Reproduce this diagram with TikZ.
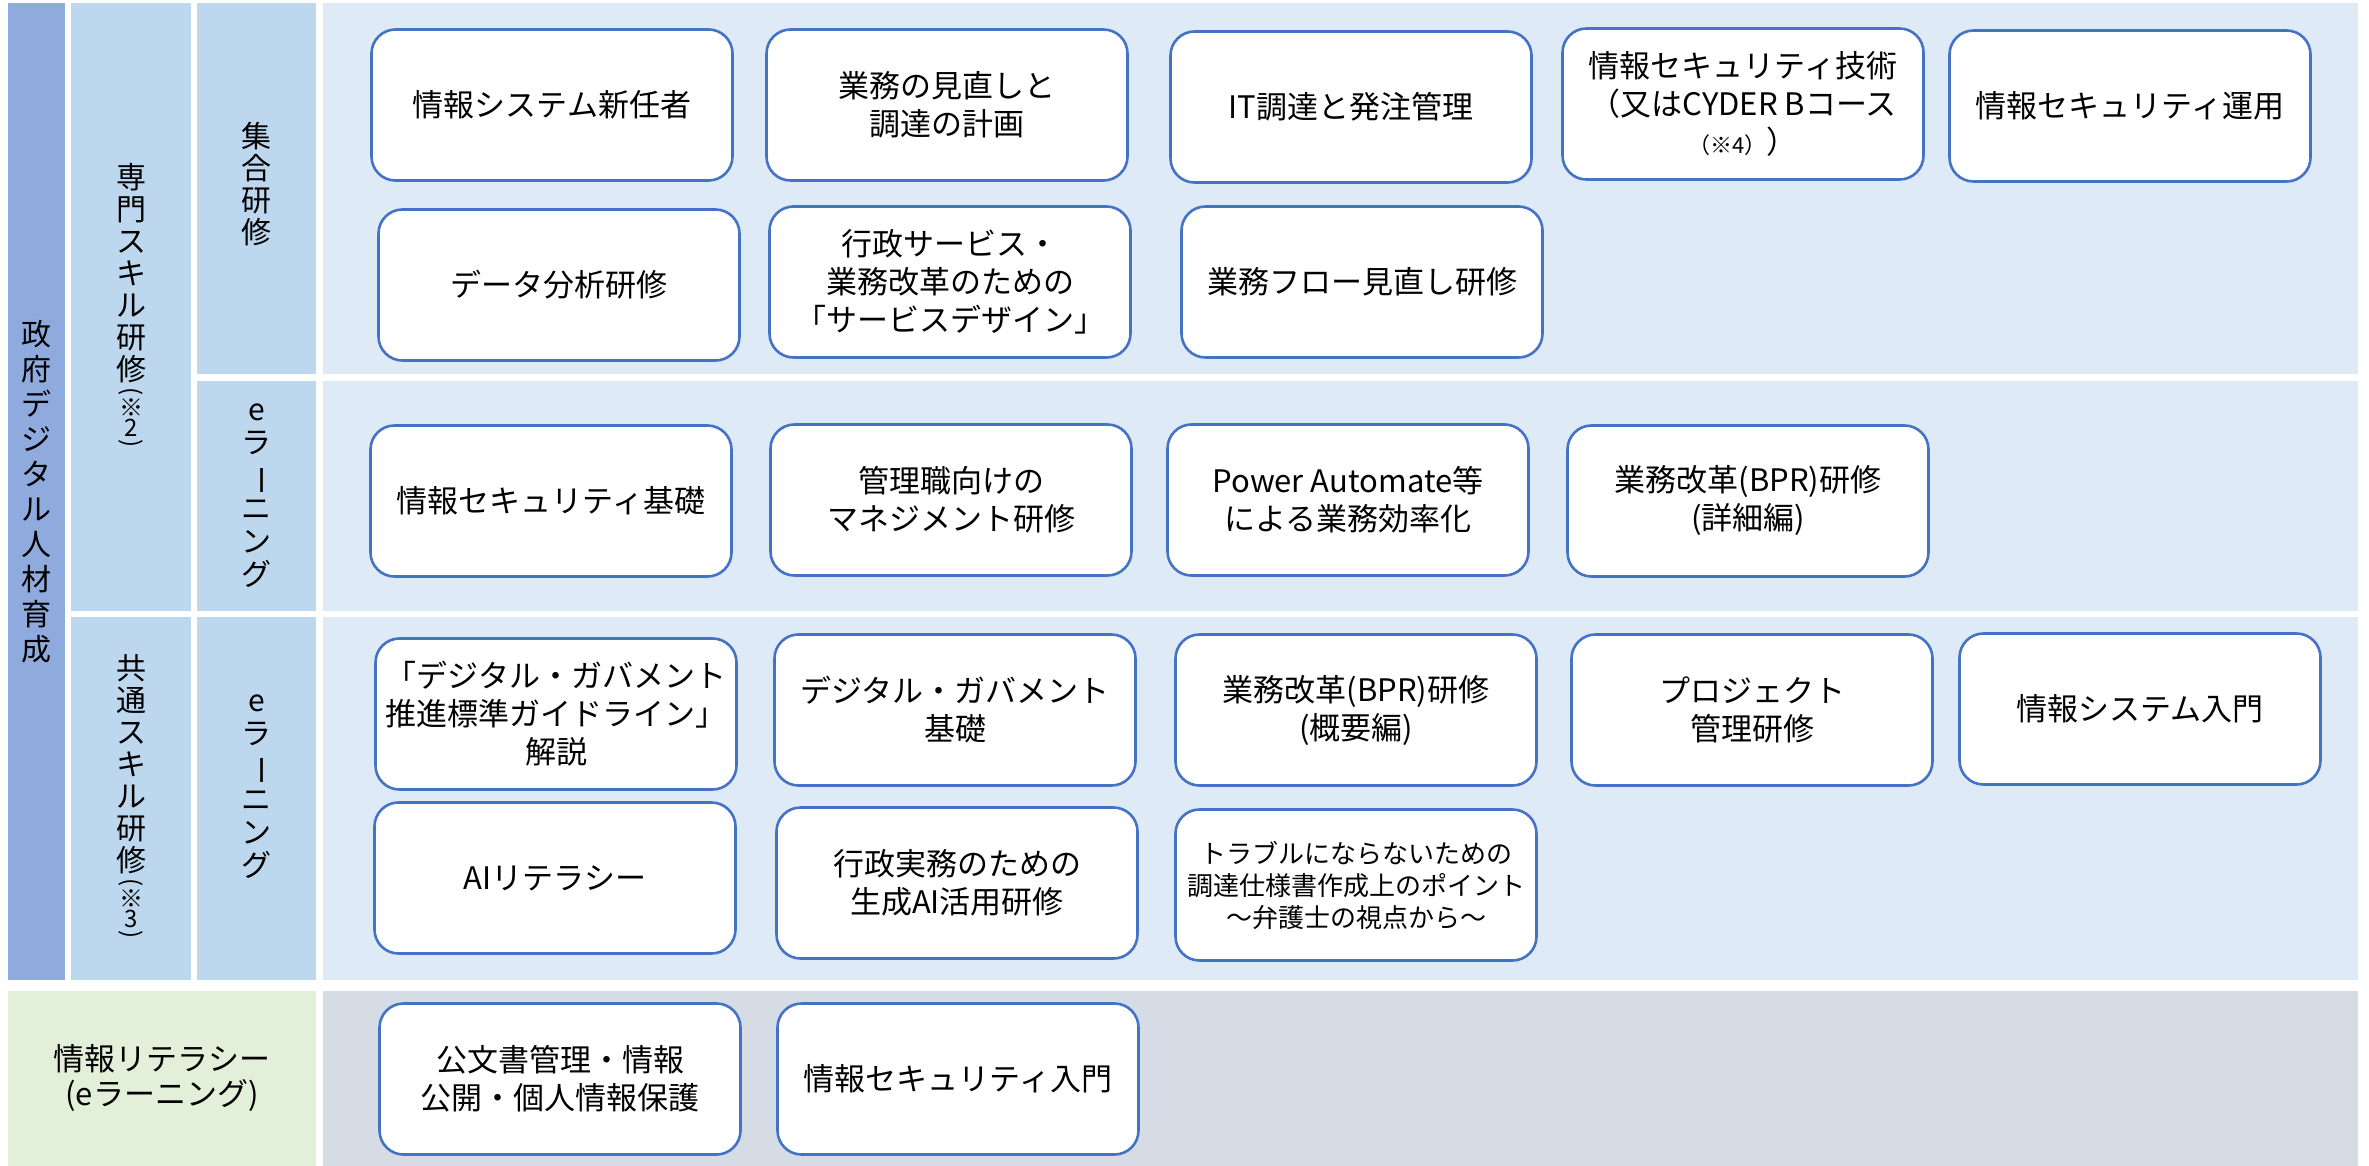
\documentclass[tikz,border=0pt]{standalone}
\usepackage{fontspec}
\setmainfont{Noto Sans CJK JP}
\usepackage{graphicx}
\definecolor{colA}{HTML}{8FAADC}
\definecolor{colB}{HTML}{BDD7EE}
\definecolor{colC}{HTML}{DEEBF7}
\definecolor{colG}{HTML}{E2F0D9}
\definecolor{colS}{HTML}{D6DCE5}
\definecolor{bord}{HTML}{4472C4}
\newcommand\vl[1]{\hbox to 40pt{\hss#1\hss}}
\newcommand\vbar{\rotatebox[origin=c]{-90}{ー}}
\newcommand\vparL{\rotatebox[origin=c]{-90}{(}}
\newcommand\vparR{\rotatebox[origin=c]{-90}{)}}
\newcommand\smv{\fontsize{24}{24}\selectfont}
\begin{document}
\begin{tikzpicture}[x=1pt,y=-1pt,
  course/.style={draw=bord, line width=2.6pt, fill=white, rounded corners=24pt,
    minimum width=361pt, minimum height=151pt, inner sep=0pt, align=center,
    font=\fontsize{31}{38}\selectfont},
  band/.style={inner sep=0pt, outer sep=0pt, anchor=north west,
    font=\fontsize{30}{33}\selectfont}]
\useasboundingbox (0,0) rectangle (2369,1166);
% side bands
\node[band, fill=colA, minimum width=57pt, minimum height=977pt] (gov) at (8,3)
  {\vbox{\baselineskip=35pt \vl{政}\vl{府}\vl{デ}\vl{ジ}\vl{タ}\vl{ル}\vl{人}\vl{材}\vl{育}\vl{成}}};
\node[band, fill=colB, minimum width=120pt, minimum height=608pt] (senmon) at (71,3)
  {\vbox{\baselineskip=32pt \vl{専}\vl{門}\vl{ス}\vl{キ}\vl{ル}\vl{研}\vl{修}
   \baselineskip=18pt \vl{\smv\vparL}\vl{\smv ※}\baselineskip=20pt\vl{\smv 2}\baselineskip=14pt\vl{\smv\vparR}}};
\node[band, fill=colB, minimum width=120pt, minimum height=363pt] (kyotsu) at (71,617)
  {\vbox{\baselineskip=32pt \vl{共}\vl{通}\vl{ス}\vl{キ}\vl{ル}\vl{研}\vl{修}
   \baselineskip=18pt \vl{\smv\vparL}\vl{\smv ※}\baselineskip=20pt\vl{\smv 3}\baselineskip=14pt\vl{\smv\vparR}}};
\node[band, fill=colB, minimum width=119pt, minimum height=371pt] (shugo) at (197,3)
  {\vbox{\baselineskip=32pt \vl{集}\vl{合}\vl{研}\vl{修}\vskip8pt}};
\node[band, fill=colB, minimum width=119pt, minimum height=230pt] (elearnA) at (197,381)
  {\vbox{\baselineskip=33pt \vl{e}\vl{ラ}\vl{\vbar}\vl{ニ}\vl{ン}\vl{グ}}};
\node[band, fill=colB, minimum width=119pt, minimum height=363pt] (elearnB) at (197,617)
  {\vbox{\baselineskip=33pt \vl{e}\vl{ラ}\vl{\vbar}\vl{ニ}\vl{ン}\vl{グ}\vskip24pt}};
\node[band, fill=colC, minimum width=2035pt, minimum height=371pt] (areaA) at (323,3) {};
\node[band, fill=colC, minimum width=2035pt, minimum height=230pt] (areaB) at (323,381) {};
\node[band, fill=colC, minimum width=2035pt, minimum height=363pt] (areaC) at (323,617) {};
\node[band, fill=colG, minimum width=308pt, minimum height=175pt, align=center,
  font=\fontsize{31}{35}\selectfont] (lit) at (8,991) {情報リテラシー\\(eラーニング)};
\node[band, fill=colS, minimum width=2035pt, minimum height=175pt] (areaD) at (323,991) {};
% 集合研修
\node[course] (b1) at (552,105) {情報システム新任者};
\node[course] (b2) at (947,105) {業務の見直しと\\調達の計画};
\node[course] (b3) at (1351,107) {IT調達と発注管理};
\node[course] (b4) at (1743,104) {情報セキュリティ技術\\（又はCYDER Bコース\\{\fontsize{22}{22}\selectfont（※4）}）};
\node[course] (b5) at (2130,106) {情報セキュリティ運用};
\node[course] (b6) at (559,285) {データ分析研修};
\node[course] (b7) at (950,282) {行政サービス・\\業務改革のための\\「サービスデザイン」};
\node[course] (b8) at (1362,282) {業務フロー見直し研修};
% 専門 eラーニング
\node[course] (b9) at (551,501) {情報セキュリティ基礎};
\node[course] (b10) at (951,500) {管理職向けの\\マネジメント研修};
\node[course] (b11) at (1348,500) {Power Automate等\\による業務効率化};
\node[course] (b12) at (1748,501) {業務改革(BPR)研修\\(詳細編)};
% 共通 eラーニング
\node[course] (b13) at (556,714) {「デジタル・ガバメント\\推進標準ガイドライン」\\解説};
\node[course] (b14) at (955,710) {デジタル・ガバメント\\基礎};
\node[course] (b15) at (1356,710) {業務改革(BPR)研修\\(概要編)};
\node[course] (b16) at (1752,710) {プロジェクト\\管理研修};
\node[course] (b17) at (2140,709) {情報システム入門};
\node[course] (b18) at (555,878) {AIリテラシー};
\node[course] (b19) at (957,883) {行政実務のための\\生成AI活用研修};
\node[course, font=\fontsize{26}{32}\selectfont] (b20) at (1356,885) {トラブルにならないための\\調達仕様書作成上のポイント\\～弁護士の視点から～};
% 情報リテラシー
\node[course] (b21) at (560,1079) {公文書管理・情報\\公開・個人情報保護};
\node[course] (b22) at (958,1079) {情報セキュリティ入門};
\end{tikzpicture}
\end{document}
